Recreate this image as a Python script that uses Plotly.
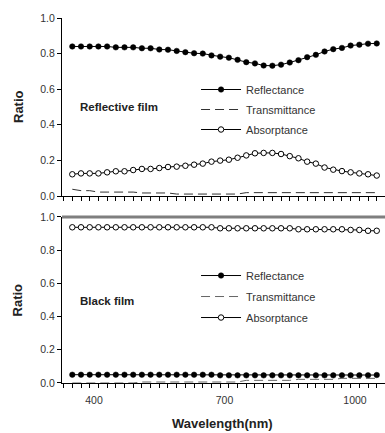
import plotly.graph_objects as go

# ---------------- data ----------------
wavelength = [350, 370, 390, 410, 430, 450, 470, 490, 510, 530, 550, 570,
              590, 610, 630, 650, 670, 690, 710, 730, 750, 770, 790, 810,
              830, 850, 870, 890, 910, 930, 950, 970, 990, 1010, 1030, 1050]

# Reflective film
refl_top = [0.840, 0.840, 0.840, 0.840, 0.840, 0.835, 0.835, 0.835, 0.830, 0.830,
            0.823, 0.822, 0.815, 0.808, 0.802, 0.800, 0.790, 0.783, 0.777, 0.765,
            0.752, 0.745, 0.733, 0.732, 0.738, 0.750, 0.763, 0.780, 0.793, 0.812,
            0.825, 0.832, 0.845, 0.850, 0.856, 0.857]
trans_top = [0.038, 0.030, 0.030, 0.022, 0.022, 0.022, 0.022, 0.022, 0.017, 0.017,
             0.017, 0.017, 0.011, 0.011, 0.011, 0.011, 0.011, 0.011, 0.011, 0.011,
             0.019, 0.019, 0.019, 0.022, 0.022, 0.022, 0.022, 0.022, 0.022, 0.022,
             0.022, 0.019, 0.019, 0.019, 0.019, 0.019]
abs_top = [0.122, 0.127, 0.127, 0.127, 0.133, 0.139, 0.139, 0.146, 0.152, 0.152,
           0.157, 0.163, 0.165, 0.170, 0.176, 0.182, 0.193, 0.199, 0.204, 0.215,
           0.228, 0.240, 0.242, 0.242, 0.236, 0.224, 0.212, 0.193, 0.182, 0.160,
           0.148, 0.140, 0.133, 0.127, 0.122, 0.115]

# Black film
refl_bot = [0.050, 0.050, 0.050, 0.050, 0.050, 0.050, 0.050, 0.050, 0.050, 0.050,
            0.050, 0.050, 0.050, 0.050, 0.050, 0.050, 0.050, 0.046, 0.046, 0.046,
            0.046, 0.046, 0.046, 0.046, 0.046, 0.046, 0.046, 0.046, 0.046, 0.046,
            0.046, 0.046, 0.046, 0.046, 0.046, 0.048]
trans_bot = [0.000, 0.000, 0.000, 0.000, 0.000, 0.000, 0.000, 0.000, 0.006, 0.006,
             0.006, 0.006, 0.006, 0.006, 0.006, 0.006, 0.006, 0.006, 0.006, 0.006,
             0.016, 0.016, 0.016, 0.016, 0.016, 0.016, 0.022, 0.022, 0.022, 0.022,
             0.022, 0.028, 0.028, 0.028, 0.028, 0.028]
abs_bot = [0.938, 0.938, 0.938, 0.938, 0.938, 0.938, 0.938, 0.938, 0.938, 0.938,
           0.938, 0.938, 0.938, 0.938, 0.938, 0.938, 0.938, 0.932, 0.932, 0.932,
           0.932, 0.932, 0.932, 0.932, 0.932, 0.932, 0.926, 0.926, 0.926, 0.926,
           0.926, 0.926, 0.922, 0.922, 0.917, 0.917]

series_names = ["Reflectance", "Transmittance", "Absorptance"]
x_tick_vals = [400, 700, 1000]
x_tick_text = ["400", "700", "1000"]
y_tick_vals = [0.0, 0.2, 0.4, 0.6, 0.8, 1.0]
panel_labels = ["Reflective film", "Black film"]
y_title = "Ratio"
x_title = "Wavelength(nm)"

FONT = "Liberation Sans, Arial, sans-serif"

fig = go.Figure()

def add_panel(refl, trans, absn, xa, ya, leg, tcolor):
    fig.add_trace(go.Scatter(
        x=wavelength, y=refl, name=series_names[0], mode="lines+markers",
        xaxis=xa, yaxis=ya, legend=leg, legendgroup=leg + "r",
        line=dict(color="black", width=1),
        marker=dict(symbol="circle", size=5.5, color="black",
                    line=dict(color="black", width=0.5))))
    fig.add_trace(go.Scatter(
        x=wavelength, y=trans, name=series_names[1], mode="lines",
        xaxis=xa, yaxis=ya, legend=leg, legendgroup=leg + "t",
        line=dict(color=tcolor, width=1, dash="9px,5px")))
    fig.add_trace(go.Scatter(
        x=wavelength, y=absn, name=series_names[2], mode="lines+markers",
        xaxis=xa, yaxis=ya, legend=leg, legendgroup=leg + "a",
        line=dict(color="black", width=1),
        marker=dict(symbol="circle", size=5.5, color="white",
                    line=dict(color="black", width=1))))

add_panel(refl_top, trans_top, abs_top, "x", "y", "legend", "#333333")
add_panel(refl_bot, trans_bot, abs_bot, "x2", "y2", "legend2", "#666666")

xrange = [326.3, 1069]
common_x = dict(range=xrange, showline=True, linecolor="black", linewidth=1,
                showgrid=False, zeroline=False, ticks="",
                minor=dict(ticks="outside", ticklen=4, tickcolor="black",
                           tickmode="linear", tick0=330, dtick=20, showgrid=False),
                tickfont=dict(family=FONT, size=10.5, color="#333333"))
common_y = dict(range=[0, 1], tickmode="array", tickvals=y_tick_vals,
                tickformat=".1f", showline=True, linecolor="black", linewidth=1,
                showgrid=False, zeroline=False, ticks="outside", ticklen=4,
                tickcolor="black",
                tickfont=dict(family=FONT, size=10.5, color="#333333"))

legend_common = dict(xanchor="left", yanchor="top", bgcolor="rgba(0,0,0,0)",
                     font=dict(family=FONT, size=11, color="#333333"),
                     itemwidth=40, traceorder="grouped")

bot_domain = [0, 0.4548]

fig.update_layout(
    width=385, height=433, autosize=False,
    margin=dict(l=62, r=0, t=18, b=50),
    paper_bgcolor="white", plot_bgcolor="white",
    xaxis=dict(common_x, anchor="y", domain=[0, 1], showticklabels=False),
    xaxis2=dict(common_x, anchor="y2", domain=[0, 1], tickmode="array",
                tickvals=x_tick_vals, ticktext=x_tick_text, showticklabels=True,
                ticklabelstandoff=7),
    yaxis=dict(common_y, anchor="x", domain=[0.5123, 1]),
    yaxis2=dict(common_y, anchor="x2", domain=bot_domain),
    legend=dict(legend_common, x=0.415, y=0.8438, tracegroupgap=1),
    legend2=dict(legend_common, x=0.415, y=0.3342, tracegroupgap=2),
    showlegend=True,
    shapes=[dict(type="line", xref="paper", yref="paper", x0=0, x1=1,
                 y0=bot_domain[1], y1=bot_domain[1], layer="above",
                 line=dict(color="#7f7f7f", width=3))],
    annotations=[
        dict(text="<b>%s</b>" % panel_labels[0], xref="paper", yref="paper",
             x=0.0495, y=0.756, xanchor="left", yanchor="middle", showarrow=False,
             font=dict(family=FONT, size=11.5, color="#222222")),
        dict(text="<b>%s</b>" % panel_labels[1], xref="paper", yref="paper",
             x=0.0495, y=0.2255, xanchor="left", yanchor="middle", showarrow=False,
             font=dict(family=FONT, size=11.5, color="#222222")),
        dict(text="<b>%s</b>" % y_title, xref="paper", yref="paper",
             x=-0.1347, y=0.7575, xanchor="center", yanchor="middle",
             textangle=-90, showarrow=False,
             font=dict(family=FONT, size=13, color="#222222")),
        dict(text="<b>%s</b>" % y_title, xref="paper", yref="paper",
             x=-0.1347, y=0.2274, xanchor="center", yanchor="middle",
             textangle=-90, showarrow=False,
             font=dict(family=FONT, size=13, color="#222222")),
        dict(text="<b>%s</b>" % x_title, xref="paper", yref="paper",
             x=0.497, y=-0.1123, xanchor="center", yanchor="middle",
             showarrow=False,
             font=dict(family=FONT, size=13, color="#222222")),
    ],
)

fig.write_html("out.html",
               config={"displayModeBar": False},
               post_script="document.body.style.margin='0';"
                           "document.body.style.overflow='hidden';")
